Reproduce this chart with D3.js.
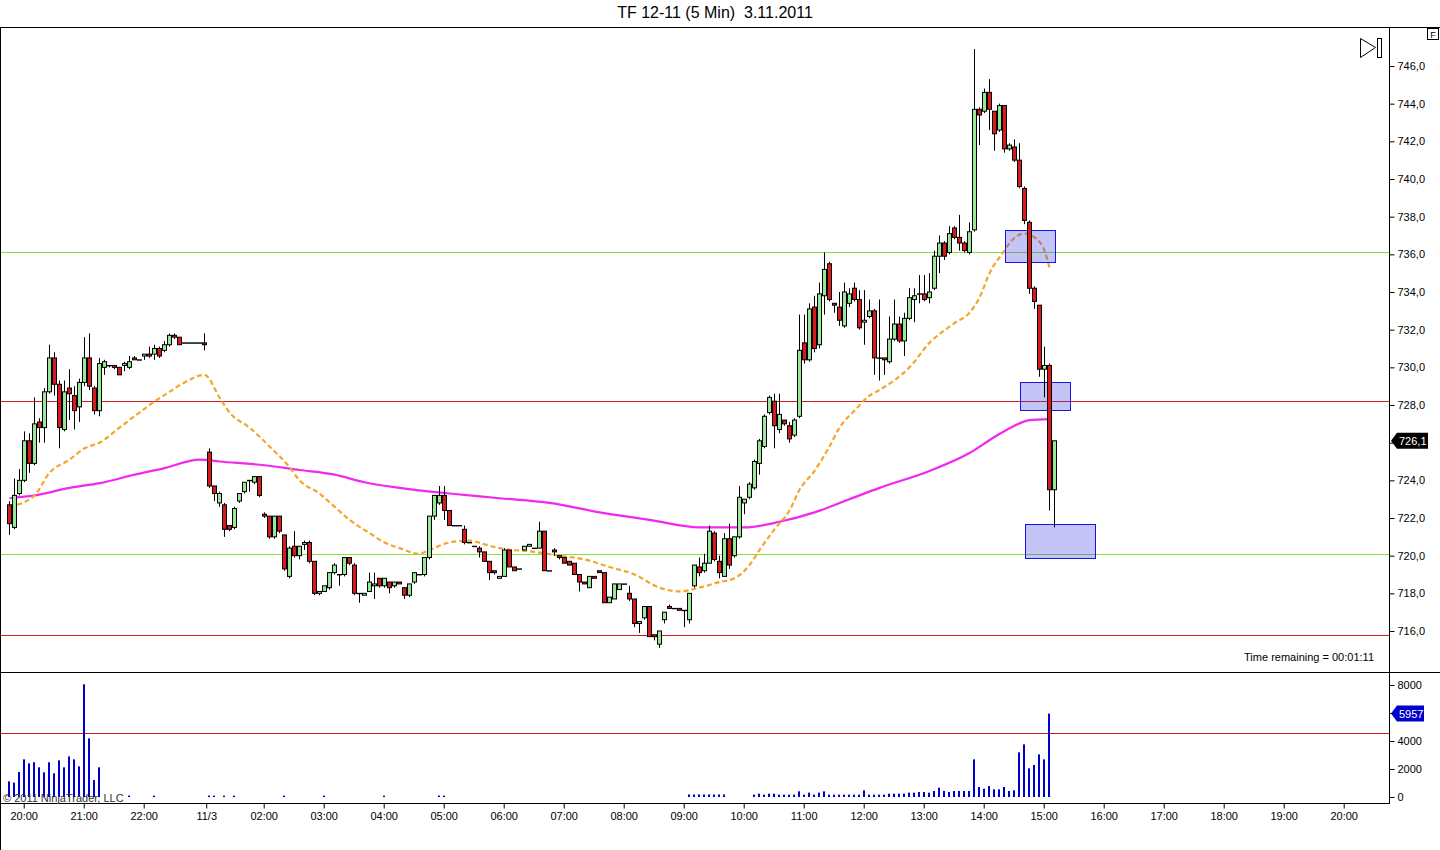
<!DOCTYPE html>
<html><head><meta charset="utf-8">
<script src="https://cdn.jsdelivr.net/npm/d3@7"></script>
<style>body{margin:0;background:#fff;}svg{display:block;font-family:"Liberation Sans",Arial,sans-serif;}</style>
</head><body><svg id="c" width="1440" height="850"></svg>
<script>
// ---------- DATA ----------
const title = "TF 12-11 (5 Min)  3.11.2011";
const opens = [722.7,721.5,723.3,724.0,726.1,724.9,727.1,726.8,728.7,730.5,
729.1,726.7,728.9,728.5,727.9,729.2,730.5,728.9,727.7,730.0,
730.1,730.1,730.0,730.1,730.0,730.5,730.4,730.6,730.7,730.7,
731.0,730.9,731.2,731.7,731.6,731.3,731.3,731.3,731.3,731.3,
725.5,723.7,722.8,722.7,721.6,721.5,722.9,723.4,724.0,723.9,
724.2,722.2,722.1,721.0,722.1,721.1,718.9,720.5,720.0,720.6,
720.7,719.7,718.0,718.1,718.3,719.1,719.0,719.0,719.9,719.5,
718.0,717.9,718.1,718.4,718.8,718.4,718.6,718.4,718.6,718.3,
717.9,718.6,719.0,719.0,719.9,722.1,722.8,723.2,722.4,721.6,
721.6,721.4,720.7,720.5,720.4,720.2,719.7,719.2,718.8,718.9,
720.3,719.4,719.3,720.3,720.5,720.4,720.4,721.3,719.2,720.3,
720.0,719.9,719.7,719.6,719.0,718.6,718.3,718.9,719.2,719.1,
717.5,717.7,718.2,718.5,718.0,717.7,716.4,716.7,717.3,715.8,
715.3,716.6,717.3,717.2,717.2,717.1,716.6,718.4,719.4,719.2,
719.6,721.2,719.7,718.9,720.9,720.0,721.0,722.8,723.1,723.6,
724.9,725.8,727.6,728.2,726.7,727.2,726.9,726.4,727.4,731.3,
730.4,733.2,731.2,733.8,735.5,733.4,733.2,732.2,733.4,734.2,
733.6,732.4,732.7,733.0,730.5,730.5,730.3,731.5,732.3,731.4,
732.6,733.6,733.9,733.9,733.7,734.2,735.9,736.6,736.1,737.4,
736.9,736.6,736.1,737.3,743.7,743.6,744.6,743.6,742.6,743.9,
741.6,741.7,741.0,739.5,737.7,734.2,733.3,729.9,730.1,723.5];
const highs = [722.9,724.1,724.6,726.6,726.5,728.4,727.3,728.9,731.2,730.8,
729.3,729.3,729.9,729.0,729.4,731.6,731.8,729.0,730.5,730.4,
730.1,730.1,730.0,730.3,730.6,730.6,730.4,730.7,731.1,731.2,
731.1,731.4,731.8,731.8,731.6,731.3,731.3,731.3,731.3,731.8,
725.7,723.7,723.4,722.8,721.6,722.6,723.3,723.9,724.0,724.2,
724.2,722.3,722.1,722.1,722.1,721.1,720.5,721.3,720.5,720.8,
720.8,719.7,718.1,718.4,719.1,719.6,719.0,719.9,719.9,719.6,
718.0,718.0,719.1,719.1,718.8,718.8,718.6,718.6,718.6,718.3,
718.5,719.1,719.0,719.9,722.1,723.2,723.7,723.7,722.4,721.6,
721.6,721.6,720.7,720.5,720.5,720.2,719.7,719.2,718.9,720.4,
720.3,719.4,719.3,720.5,720.6,720.4,721.8,721.3,719.2,720.4,
720.0,719.9,719.7,719.6,719.0,718.6,718.9,718.9,719.2,719.1,
717.8,718.5,718.5,718.5,718.4,717.7,716.5,717.3,717.3,715.8,
716.0,717.0,717.4,717.2,717.2,717.1,718.0,719.5,719.9,720.1,
721.6,721.3,720.0,721.2,721.7,721.0,723.7,723.0,723.9,725.1,
726.2,727.5,728.5,728.6,728.6,727.2,727.1,727.3,732.8,732.8,
733.4,733.8,734.5,736.1,735.6,733.4,734.0,734.5,734.2,734.5,
734.1,734.1,733.6,733.1,733.6,730.5,732.7,733.6,732.7,732.9,
734.2,734.2,734.9,734.9,735.0,736.2,737.0,736.7,737.5,737.5,
738.1,736.7,737.7,746.9,743.8,744.8,745.3,743.6,744.0,743.9,
741.9,742.1,741.9,739.6,737.8,734.3,733.3,731.1,730.2,726.1];
const lows = [721.1,721.4,723.2,723.9,724.4,724.8,726.0,726.0,728.6,728.5,
725.7,726.6,727.2,726.7,727.1,729.0,728.8,727.5,727.4,729.6,
730.0,729.9,729.6,729.8,729.9,730.4,730.4,730.4,730.5,730.4,
730.5,730.8,731.1,731.5,731.2,731.3,731.3,731.3,731.3,730.9,
723.6,722.9,722.6,721.0,721.3,721.4,722.8,723.3,723.4,723.8,
723.1,722.0,720.9,720.9,721.2,719.2,718.8,719.9,719.8,720.3,
719.6,717.9,717.9,718.1,718.2,719.0,718.4,718.9,719.5,717.9,
717.5,717.9,718.1,717.7,718.3,718.3,718.0,718.3,718.5,717.7,
717.8,718.5,719.0,718.9,719.8,721.9,722.7,721.9,721.6,721.6,
721.6,720.6,720.7,720.5,719.9,719.7,718.7,719.0,718.8,718.9,
719.4,719.2,719.3,720.3,720.5,720.4,720.4,719.2,719.2,720.0,
719.8,719.6,719.5,719.0,718.1,718.5,718.3,718.8,719.1,717.5,
717.5,717.7,718.2,718.5,717.6,716.2,715.9,716.6,715.7,715.5,
715.1,716.4,717.2,717.2,717.1,716.2,716.4,718.3,718.9,719.1,
719.6,719.7,718.8,718.9,719.3,719.9,720.9,722.2,723.0,723.5,
724.3,725.7,727.5,725.7,726.5,726.9,726.0,726.3,727.3,730.2,
730.3,730.8,731.0,732.8,733.5,732.9,732.2,732.1,733.2,733.5,
732.0,731.2,732.6,729.6,729.3,729.6,730.2,731.4,731.3,730.6,
732.5,732.4,733.4,733.5,733.4,734.1,735.0,735.7,736.0,736.8,
736.2,736.1,736.0,737.2,741.8,743.5,742.6,741.5,742.5,741.4,
741.5,740.9,739.5,737.6,733.9,733.1,729.5,728.4,722.4,721.5];
const closes = [721.7,723.2,724.0,726.1,724.9,727.0,726.8,728.7,730.5,729.1,
726.8,728.7,728.6,727.7,729.2,730.5,729.0,727.7,730.2,730.3,
730.1,730.0,729.6,730.2,730.3,730.4,730.4,730.7,730.6,731.0,
730.6,731.2,731.7,731.6,731.2,731.3,731.3,731.3,731.3,731.2,
723.7,723.3,723.3,721.4,721.4,722.5,723.3,723.9,724.0,724.2,
723.2,722.1,721.0,722.1,721.3,719.3,720.4,720.0,720.5,720.7,
719.7,718.0,718.1,718.4,719.1,719.5,719.0,719.9,719.6,718.0,
718.0,718.0,718.6,718.5,718.4,718.8,718.3,718.6,718.5,717.9,
718.5,719.1,719.0,719.9,722.1,723.2,723.2,722.4,721.6,721.6,
721.6,720.7,720.7,720.5,720.2,719.7,719.1,719.1,718.9,720.3,
719.4,719.2,719.3,720.5,720.6,720.4,721.3,719.2,719.2,720.2,
719.9,719.6,719.5,719.0,718.6,718.5,718.9,718.8,719.1,717.5,
717.8,718.5,718.5,718.5,717.7,716.4,716.5,717.3,715.7,715.7,
716.0,717.0,717.2,717.2,717.1,717.1,718.0,719.5,719.1,719.6,
721.3,719.8,719.1,720.9,719.5,721.0,723.1,723.0,723.8,725.0,
726.1,727.4,728.4,726.9,727.5,727.0,726.2,727.2,730.9,730.4,
733.1,731.0,733.9,735.2,733.6,733.3,732.5,734.0,733.9,733.6,
732.1,732.5,733.0,730.5,730.5,730.4,731.5,732.3,731.4,732.6,
733.7,733.8,733.9,733.6,734.0,735.9,736.6,735.9,737.1,736.9,
736.6,736.2,737.2,743.7,743.4,744.6,743.7,742.4,743.9,741.6,
741.8,741.0,739.6,737.8,734.2,733.5,729.9,730.1,723.5,726.1];
const volumes = [1120,1030,1790,2690,2400,2480,2120,1760,2480,1690,
2620,2120,2900,2690,2190,8050,4190,1210,2120,0,
0,0,0,0,100,0,0,0,0,100,
0,0,0,0,0,0,0,0,0,0,
100,100,0,100,0,100,0,0,0,0,
0,0,0,0,0,100,0,0,0,0,
0,0,0,100,0,0,0,0,0,0,
0,0,0,0,0,100,0,0,0,0,
0,0,0,0,0,0,100,100,0,0,
0,0,0,0,0,0,0,0,0,0,
0,0,0,0,0,0,0,0,0,0,
0,0,0,0,0,0,0,0,0,0,
0,0,0,0,0,0,0,0,0,0,
0,0,0,0,0,0,180,180,180,180,
180,180,180,180,0,0,0,0,0,167,
238,167,238,238,167,167,167,167,405,167,
310,167,310,405,167,167,167,167,167,167,
167,476,167,167,167,167,238,238,238,238,
310,310,357,357,310,428,666,428,357,428,
428,428,428,2690,714,595,785,548,548,714,
428,476,3190,3760,2047,2285,3046,2690,5957,0];
// moving averages (bar index, value)
const emaBars = [0,5,8,12,15,18,22,25,28,32,35,39,42,44,48,52,56,58,62,65,68,72,75,78,82,84,88,92,95,98,105,110,115,120,125,130,134,138,142,145,148,150,153,156,158,161,164,166,169,172,174,180,184,189,192,194,196,199,200,203,205,207,208];
const emaVals = [722.6,723.2,724.4,725.1,725.7,726.0,726.8,727.4,728.0,728.7,729.2,729.6,728.4,727.6,726.8,725.8,724.7,724.0,723.3,722.6,721.9,721.2,720.7,720.4,720.1,720.3,720.7,720.8,720.6,720.4,720.2,720.0,719.8,719.4,719.0,718.3,718.1,718.3,718.6,718.8,719.5,720.3,721.4,722.4,723.5,724.5,725.8,726.8,727.7,728.5,728.8,730.0,731.3,732.35,732.9,733.7,735.0,736.2,736.6,737.1,736.9,736.2,735.3];
const smaBars = [0,5,12,18,25,31,38,42,51,58,65,71,78,88,98,108,118,128,138,147,154,161,168,174,184,192,197,201,204,208];
const smaVals = [723.05,723.2,723.6,723.85,724.3,724.65,725.1,725.0,724.8,724.55,724.3,723.9,723.6,723.3,723.05,722.8,722.3,721.9,721.5,721.5,721.8,722.3,723.0,723.6,724.5,725.45,726.3,726.9,727.2,727.25];
const greenLevels = [736.15, 720.1];
const redLevels = [728.2, 715.8];
const volumeLevel = 4550;
const zoneStart = [199.1, 202.0, 203.0];
const zoneEnd = [209.0, 212.0, 217.0];
const zoneTop = [737.3, 729.2, 721.7];
const zoneBottom = [735.6, 727.7, 719.9];
const priceTicks = [716,718,720,722,724,726,728,730,732,734,736,738,740,742,744,746];
const volTicks = [0,2000,4000,6000,8000];
const timeLabels = ["20:00","21:00","22:00","11/3","02:00","03:00","04:00","05:00","06:00","07:00","08:00","09:00","10:00","11:00","12:00","13:00","14:00","15:00","16:00","17:00","18:00","19:00","20:00"];
const timeBars = [3,15,27,39.5,51,63,75,87,99,111,123,135,147,159,171,183,195,207,219,231,243,255,267];
const lastPrice = 726.1;
const lastVolume = 5957;
const timeRemaining = "Time remaining = 00:01:11";
const copyright = "\u00A9 2011 NinjaTrader, LLC";

// ---------- LAYOUT ----------
const W = 1440, H = 850;
const plotL = 0, plotR = 1389, pTop = 27, pBot = 672, vTop = 672, vBot = 803;
const svg = d3.select('#c');
const x = d3.scaleLinear().domain([0, 276]).range([9.5, 1389.5]);
const yP = d3.scaleLinear().domain([716, 746]).range([631, 66]);
const yV = d3.scaleLinear().domain([0, 8000]).range([797, 685]);
const fmtP = d => d.toFixed(1).replace('.', ',');

const defs = svg.append('defs');
defs.append('clipPath').attr('id','clipP').append('rect').attr('x',plotL).attr('y',pTop).attr('width',plotR-plotL).attr('height',pBot-pTop);
defs.append('clipPath').attr('id','clipV').append('rect').attr('x',plotL).attr('y',vTop).attr('width',plotR-plotL).attr('height',vBot-vTop);

// title
svg.append('text').attr('x',715).attr('y',18).attr('text-anchor','middle').attr('font-size',16)
  .style('white-space','pre').attr('fill','#000').text(title);

const bars = d3.range(opens.length).map(i => ({i, o:opens[i], h:highs[i], l:lows[i], c:closes[i], v:volumes[i]}));

// price panel
const gP = svg.append('g').attr('clip-path','url(#clipP)');
gP.selectAll('line.gl').data(greenLevels).join('line').attr('class','gl')
  .attr('x1',plotL).attr('x2',plotR).attr('y1',d=>Math.round(yP(d))+0.5).attr('y2',d=>Math.round(yP(d))+0.5)
  .attr('stroke','#84e03a').attr('stroke-width',1);
gP.selectAll('line.rl').data(redLevels).join('line').attr('class','rl')
  .attr('x1',plotL).attr('x2',plotR).attr('y1',d=>Math.round(yP(d))+0.5).attr('y2',d=>Math.round(yP(d))+0.5)
  .attr('stroke','#d01c1c').attr('stroke-width',1);

const line = d3.line().x(d=>x(d[0])).y(d=>yP(d[1])).curve(d3.curveMonotoneX);
gP.append('path').datum(smaBars.map((b,k)=>[b,smaVals[k]])).attr('d',line)
  .attr('fill','none').attr('stroke','#f028f0').attr('stroke-width',2.2);
gP.append('path').datum(emaBars.map((b,k)=>[b,emaVals[k]])).attr('d',line)
  .attr('fill','none').attr('stroke','#f5a52a').attr('stroke-width',2.2).attr('stroke-dasharray','5,3');

// zones
gP.selectAll('rect.zone').data(zoneStart).join('rect').attr('class','zone')
  .attr('x',(d,k)=>Math.round(x(d))+0.5).attr('width',(d,k)=>Math.round(x(zoneEnd[k])-x(d)))
  .attr('y',(d,k)=>Math.round(yP(zoneTop[k]))+0.5).attr('height',(d,k)=>Math.round(yP(zoneBottom[k])-yP(zoneTop[k])))
  .attr('fill','rgba(60,60,230,0.3)').attr('stroke','#1414e6').attr('stroke-width',1);

// candles
gP.selectAll('line.wick').data(bars).join('line').attr('class','wick')
  .attr('x1',d=>x(d.i)).attr('x2',d=>x(d.i)).attr('y1',d=>yP(d.h)).attr('y2',d=>yP(d.l))
  .attr('stroke','#000').attr('stroke-width',1);
gP.selectAll('rect.body').data(bars).join('rect').attr('class','body')
  .attr('x',d=>x(d.i)-2).attr('width',4)
  .attr('y',d=>yP(Math.max(d.o,d.c))).attr('height',d=>Math.max(0.4, Math.abs(yP(d.o)-yP(d.c))))
  .attr('fill',d=>d.c>=d.o?'#98e898':'#da1a1a').attr('stroke','#000').attr('stroke-width',1);

// volume panel
const gV = svg.append('g').attr('clip-path','url(#clipV)');
gV.append('line').attr('x1',plotL).attr('x2',plotR).attr('y1',Math.round(yV(volumeLevel))+0.5).attr('y2',Math.round(yV(volumeLevel))+0.5)
  .attr('stroke','#d01c1c').attr('stroke-width',1);
gV.selectAll('rect.vol').data(bars.filter(d=>d.v>0)).join('rect').attr('class','vol')
  .attr('x',d=>x(d.i)-1.5).attr('width',2)
  .attr('y',d=>yV(d.v)).attr('height',d=>yV(0)-yV(d.v)).attr('fill','#0000cc');

// frame lines
const frame = svg.append('g').attr('stroke','#000').attr('stroke-width',1).attr('shape-rendering','crispEdges');
frame.append('line').attr('x1',0).attr('x2',W).attr('y1',27.5).attr('y2',27.5);
frame.append('line').attr('x1',0).attr('x2',W).attr('y1',672.5).attr('y2',672.5);
frame.append('line').attr('x1',0.5).attr('x2',0.5).attr('y1',27).attr('y2',H);
frame.append('line').attr('x1',plotR+0.5).attr('x2',plotR+0.5).attr('y1',27).attr('y2',vBot+1);
frame.append('line').attr('x1',0).attr('x2',plotR+1).attr('y1',vBot+0.5).attr('y2',vBot+0.5);

// axes
const axP = svg.append('g').attr('transform',`translate(${plotR+0.5},0)`)
  .call(d3.axisRight(yP).tickValues(priceTicks).tickFormat(fmtP).tickSize(5).tickPadding(3));
const axV = svg.append('g').attr('transform',`translate(${plotR+0.5},0)`)
  .call(d3.axisRight(yV).tickValues(volTicks).tickFormat(d3.format('d')).tickSize(5).tickPadding(3));
const axX = svg.append('g').attr('transform',`translate(-0.8,${vBot+0.5})`)
  .call(d3.axisBottom(x).tickValues(timeBars).tickFormat((d,k)=>timeLabels[k]).tickSize(5).tickPadding(4));
[axP,axV,axX].forEach(a=>{a.select('.domain').remove();a.selectAll('text').attr('font-size',11).attr('fill','#000').attr('font-family','"Liberation Sans",Arial,sans-serif');a.selectAll('line').attr('stroke','#000');});

// last value tags
function tag(yv, txt, fill, w){
  const g = svg.append('g');
  g.append('path').attr('d',`M${plotR+2},${yv} L${plotR+8},${yv-8} L${plotR+8+w},${yv-8} L${plotR+8+w},${yv+8} L${plotR+8},${yv+8} Z`).attr('fill',fill);
  g.append('text').attr('x',plotR+10).attr('y',yv+4).attr('font-size',11).attr('fill','#fff').text(txt);
}
tag(yP(lastPrice), fmtP(lastPrice), '#000', 31);
tag(yV(lastVolume), String(lastVolume), '#0000cc', 27);

// texts
svg.append('text').attr('x',1374).attr('y',661).attr('text-anchor','end').attr('font-size',11).attr('fill','#000').text(timeRemaining);
svg.append('text').attr('x',3).attr('y',802).attr('font-size',11).attr('fill','#333').text(copyright);

// icons
const ic = svg.append('g').attr('fill','none').attr('stroke','#000').attr('stroke-width',1);
ic.append('path').attr('d','M1360.5,38.5 L1375.5,47.5 L1360.5,57.5 Z');
ic.append('rect').attr('x',1377.5).attr('y',38.5).attr('width',4).attr('height',19);
ic.append('rect').attr('x',1427.5).attr('y',28.5).attr('width',11).attr('height',11);
svg.append('text').attr('x',1433).attr('y',37.5).attr('text-anchor','middle').attr('font-size',9).attr('fill','#000').text('F');
</script></body></html>
